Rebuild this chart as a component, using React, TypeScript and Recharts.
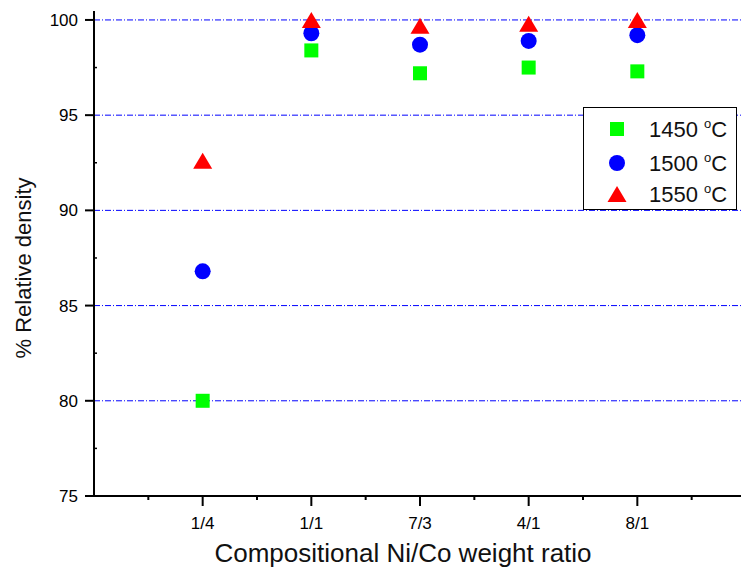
import React from "react";
import {
  ScatterChart,
  Scatter,
  XAxis,
  YAxis,
  ReferenceLine,
  Legend,
} from "recharts";

const ratios = ["1/4", "1/1", "7/3", "4/1", "8/1"];
const density1450 = [80.0, 98.4, 97.2, 97.5, 97.3];
const density1500 = [86.8, 99.3, 98.7, 98.9, 99.2];
const density1550 = [92.6, 100.0, 99.7, 99.8, 100.0];
const seriesNames = ["1450", "1500", "1550"];

const yTicks = [75, 77.5, 80, 82.5, 85, 87.5, 90, 92.5, 95, 97.5, 100];
const xTicks = [0.5, 1, 1.5, 2, 2.5, 3, 3.5, 4, 4.5, 5, 5.5];
const gridValues = [80, 85, 90, 95, 100];

const FONT = "'Liberation Sans', Arial, sans-serif";

const toPoints = (vals: number[]) =>
  vals.map((v, i) => ({ x: i + 1, y: v, label: ratios[i] }));

const data1450 = toPoints(density1450);
const data1500 = toPoints(density1500);
const data1550 = toPoints(density1550);

const Square = (props: any) => (
  <rect x={props.cx - 7} y={props.cy - 7} width={14} height={14} fill="#00ff00" />
);
const Circle = (props: any) => <circle cx={props.cx} cy={props.cy} r={8} fill="#0000ff" />;
const Triangle = (props: any) => (
  <polygon
    points={`${props.cx - 9.5},${props.cy + 8} ${props.cx + 9.5},${props.cy + 8} ${props.cx},${props.cy - 8}`}
    fill="#ff0000"
  />
);

const BottomTick = (props: any) => {
  const { x, y, payload } = props;
  const major = Number.isInteger(payload.value);
  return (
    <g>
      <line x1={x} y1={y} x2={x} y2={y + (major ? 10 : 4)} stroke="#000" strokeWidth={2} />
      {major && (
        <text x={x} y={y + 33} textAnchor="middle" fontSize={17} fontFamily={FONT} fill="#000">
          {ratios[payload.value - 1]}
        </text>
      )}
    </g>
  );
};

const TopTick = (props: any) => {
  const { x, y } = props;
  return <line x1={x} y1={y} x2={x} y2={y + 4} stroke="#000" strokeWidth={1.5} />;
};

const LeftTick = (props: any) => {
  const { x, y, payload } = props;
  const major = payload.value % 5 === 0;
  return (
    <g>
      {major ? (
        <line x1={x} y1={y} x2={x - 9} y2={y} stroke="#000" strokeWidth={2} />
      ) : (
        <line x1={x} y1={y} x2={x + 3} y2={y} stroke="#000" strokeWidth={1.5} />
      )}
      {major && (
        <text x={x - 16} y={y} dy="0.36em" textAnchor="end" fontSize={17} fontFamily={FONT} fill="#000">
          {payload.value}
        </text>
      )}
    </g>
  );
};

const markers = [
  <svg width={16} height={16}><rect x={1} y={1} width={14} height={14} fill="#00ff00" /></svg>,
  <svg width={18} height={18}><circle cx={9} cy={9} r={8} fill="#0000ff" /></svg>,
  <svg width={20} height={17}><polygon points="0.5,16.5 19.5,16.5 10,0.5" fill="#ff0000" /></svg>,
];

const LegendBox = () => (
  <div
    style={{
      position: "relative",
      width: 152,
      height: 101,
      border: "1.5px solid #000",
      background: "#fff",
      fontFamily: FONT,
      fontSize: 22,
      color: "#111",
    }}
  >
    {seriesNames.map((name, i) => (
      <div key={name} style={{ position: "absolute", left: 0, top: [21, 55, 86][i] - 16, height: 32, width: 152 }}>
        <div style={{ position: "absolute", left: 33, top: 16, transform: "translate(-50%, -50%)", lineHeight: 0 }}>
          {markers[i]}
        </div>
        <div style={{ position: "absolute", left: 65, top: 4, lineHeight: "26px", whiteSpace: "nowrap" }}>
          {name}{" "}
          <span style={{ fontSize: 13, position: "relative", top: -9 }}>o</span>C
        </div>
      </div>
    ))}
  </div>
);

export default function App() {
  return (
    <div
      style={{
        position: "fixed",
        left: 0,
        top: 0,
        width: 741,
        height: 574,
        overflow: "hidden",
        background: "#fff",
      }}
    >
      <ScatterChart width={760} height={574} margin={{ top: 11, right: 14, bottom: 0, left: 0 }}>
        {gridValues.map((v) => (
          <ReferenceLine
            key={v}
            y={v}
            stroke="#0000ff"
            strokeWidth={1}
            strokeDasharray="6 2 1 2"
            ifOverflow="visible"
          />
        ))}
        <XAxis
          type="number"
          dataKey="x"
          domain={[0, 6]}
          ticks={xTicks}
          allowDataOverflow
          height={78}
          tickSize={0}
          tickMargin={0}
          tickLine={false}
          axisLine={{ stroke: "#000", strokeWidth: 2 }}
          tick={<BottomTick />}
          interval={0}
          label={{
            content: (p: any) => (
              <text
                x={p.viewBox.x + p.viewBox.width / 2 - 17}
                y={p.viewBox.y + 66}
                textAnchor="middle"
                fontSize={26}
                fontFamily={FONT}
                fill="#111"
              >
                Compositional Ni/Co weight ratio
              </text>
            ),
          }}
        />
        <XAxis
          xAxisId="top"
          orientation="top"
          type="number"
          domain={[0, 6]}
          ticks={xTicks}
          allowDataOverflow
          height={0}
          tickSize={0}
          tickMargin={0}
          tickLine={false}
          axisLine={{ stroke: "#000", strokeWidth: 2 }}
          tick={<TopTick />}
          interval={0}
        />
        <YAxis
          type="number"
          dataKey="y"
          domain={[75, 100.47]}
          ticks={yTicks}
          allowDataOverflow
          width={94}
          tickSize={0}
          tickMargin={0}
          tickLine={false}
          axisLine={{ stroke: "#000", strokeWidth: 2 }}
          tick={<LeftTick />}
          interval={0}
          label={{
            content: (p: any) => {
              const cx = p.viewBox.x + 31;
              const cy = 268;
              return (
                <text
                  x={cx}
                  y={cy}
                  transform={`rotate(-90, ${cx}, ${cy})`}
                  textAnchor="middle"
                  fontSize={22}
                  fontFamily={FONT}
                  fill="#111"
                >
                  % Relative density
                </text>
              );
            },
          }}
        />
        <Legend
          layout="horizontal"
          verticalAlign="middle"
          align="center"
          wrapperStyle={{ left: 583, top: 107, width: 155, height: 104 }}
          content={() => <LegendBox />}
        />
        <Scatter name="1450 °C" data={data1450} shape={<Square />} isAnimationActive={false} />
        <Scatter name="1500 °C" data={data1500} shape={<Circle />} isAnimationActive={false} />
        <Scatter name="1550 °C" data={data1550} shape={<Triangle />} isAnimationActive={false} />
      </ScatterChart>
    </div>
  );
}
